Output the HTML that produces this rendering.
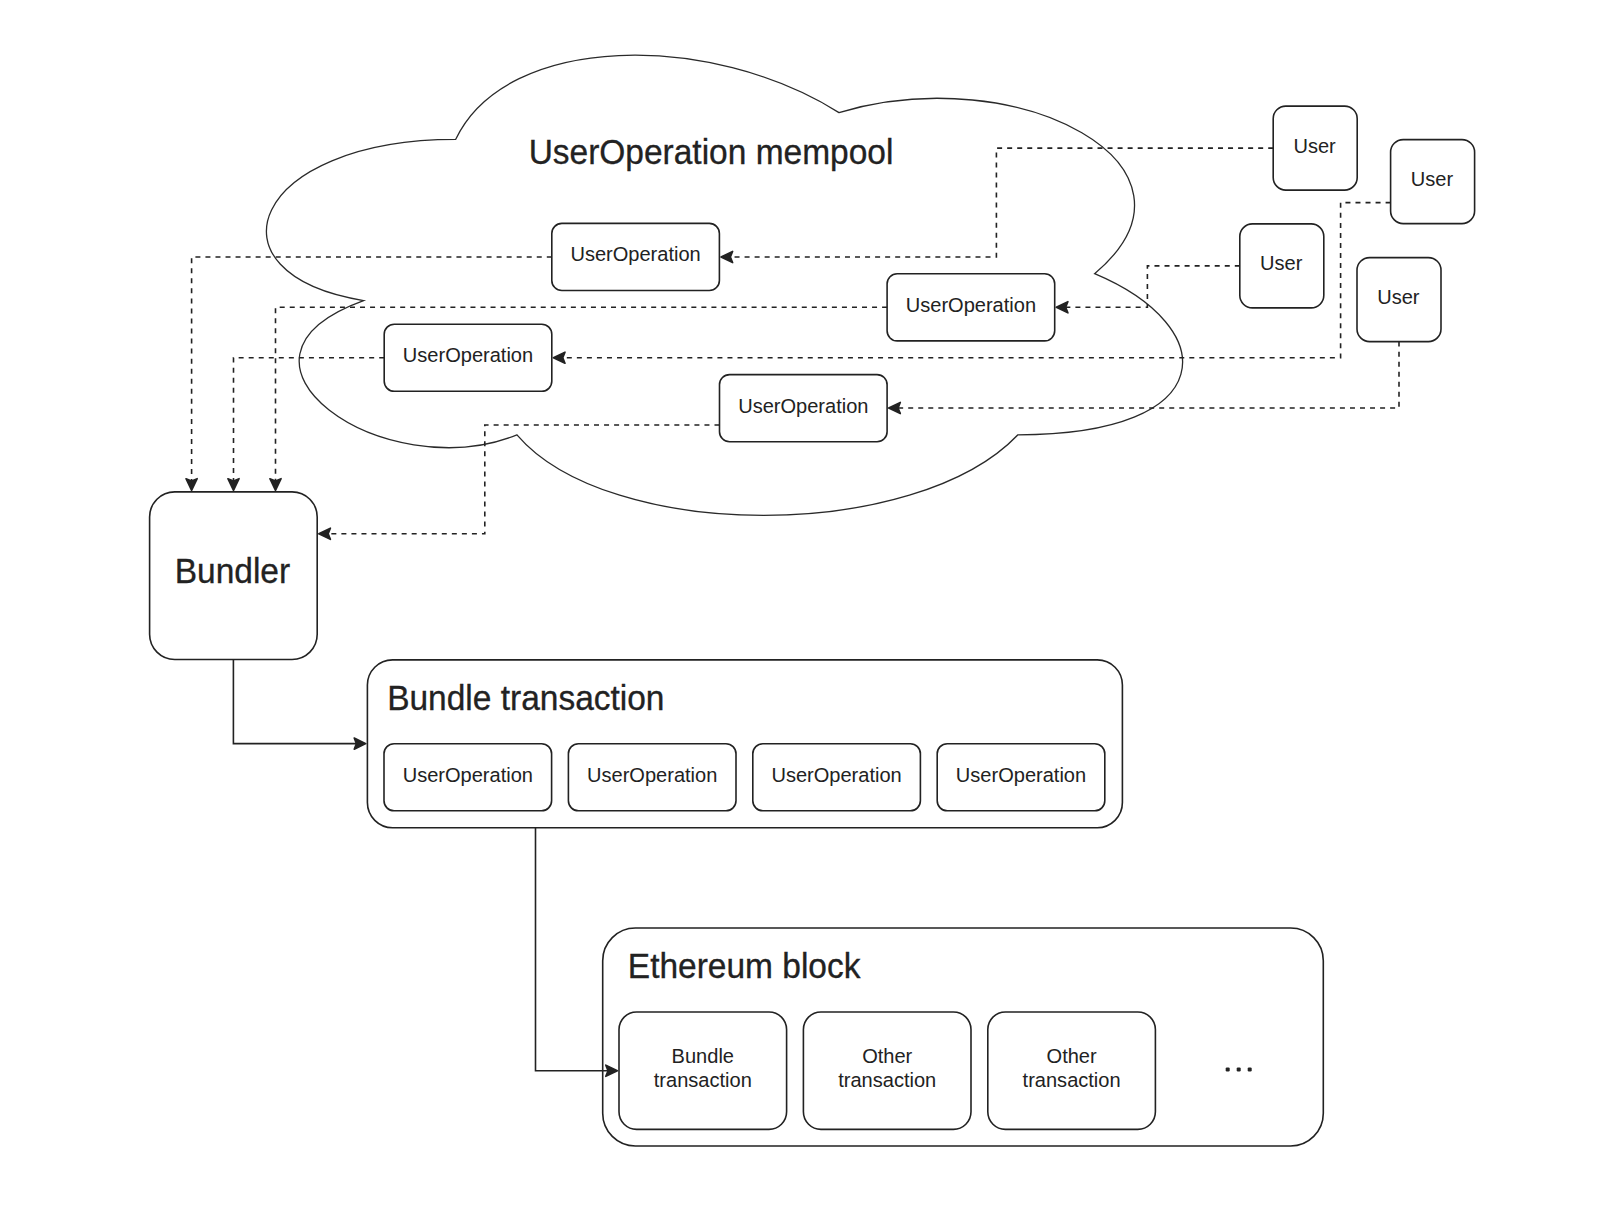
<!DOCTYPE html>
<html><head><meta charset="utf-8"><style>
html,body{margin:0;padding:0;background:#fff;}
svg{display:block;}
text{font-family:"Liberation Sans",sans-serif;fill:#222;}
</style></head><body>
<svg width="1614" height="1216" viewBox="0 0 1614 1216">
<rect width="1614" height="1216" fill="#fff"/>
<path d="M455.60,139.45 C251.12,139.45 200.00,273.70 363.58,300.55 C200.00,359.62 384.03,488.50 516.94,434.80 C608.96,542.20 915.68,542.20 1017.92,434.80 C1222.40,434.80 1222.40,327.40 1094.60,273.70 C1222.40,166.30 1017.92,58.90 839.00,112.60 C711.20,32.05 506.72,32.05 455.60,139.45 Z" fill="#fff" stroke="#2a2a2a" stroke-width="1.3"/>
<rect x="551.80" y="223.40" width="167.60" height="67.10" rx="10.06" ry="10.06" fill="#fff" stroke="#222" stroke-width="1.6"/>
<text transform="translate(635.60,261.35) scale(1,1.04)" font-size="20.05" text-anchor="middle">UserOperation</text>
<rect x="887.10" y="273.80" width="167.60" height="67.10" rx="10.06" ry="10.06" fill="#fff" stroke="#222" stroke-width="1.6"/>
<text transform="translate(970.90,311.75) scale(1,1.04)" font-size="20.05" text-anchor="middle">UserOperation</text>
<rect x="384.20" y="324.20" width="167.60" height="67.10" rx="10.06" ry="10.06" fill="#fff" stroke="#222" stroke-width="1.6"/>
<text transform="translate(468.00,362.15) scale(1,1.04)" font-size="20.05" text-anchor="middle">UserOperation</text>
<rect x="719.50" y="374.60" width="167.60" height="67.10" rx="10.06" ry="10.06" fill="#fff" stroke="#222" stroke-width="1.6"/>
<text transform="translate(803.30,412.55) scale(1,1.04)" font-size="20.05" text-anchor="middle">UserOperation</text>
<rect x="1273.20" y="106.10" width="84.00" height="84.00" rx="12.60" ry="12.60" fill="#fff" stroke="#222" stroke-width="1.6"/>
<text transform="translate(1314.60,152.50) scale(1,1.04)" font-size="20.05" text-anchor="middle">User</text>
<rect x="1390.60" y="139.60" width="84.00" height="84.00" rx="12.60" ry="12.60" fill="#fff" stroke="#222" stroke-width="1.6"/>
<text transform="translate(1432.00,186.00) scale(1,1.04)" font-size="20.05" text-anchor="middle">User</text>
<rect x="1239.80" y="223.90" width="84.00" height="84.00" rx="12.60" ry="12.60" fill="#fff" stroke="#222" stroke-width="1.6"/>
<text transform="translate(1281.20,270.30) scale(1,1.04)" font-size="20.05" text-anchor="middle">User</text>
<rect x="1357.00" y="257.60" width="84.00" height="84.00" rx="12.60" ry="12.60" fill="#fff" stroke="#222" stroke-width="1.6"/>
<text transform="translate(1398.40,304.00) scale(1,1.04)" font-size="20.05" text-anchor="middle">User</text>
<rect x="149.60" y="491.90" width="167.60" height="167.60" rx="25.14" ry="25.14" fill="#fff" stroke="#222" stroke-width="1.6"/>
<text transform="translate(232.40,583.30) scale(1,1.04)" font-size="33.5" text-anchor="middle" stroke="#222" stroke-width="0.3">Bundler</text>
<rect x="367.40" y="659.90" width="755.00" height="167.80" rx="25.17" ry="25.17" fill="#fff" stroke="#222" stroke-width="1.6"/>
<text transform="translate(387.15,709.50) scale(1,1.04)" font-size="33.5" text-anchor="start" stroke="#222" stroke-width="0.3">Bundle transaction</text>
<rect x="384.00" y="743.70" width="167.60" height="67.10" rx="10.06" ry="10.06" fill="#fff" stroke="#222" stroke-width="1.6"/>
<text transform="translate(467.80,781.65) scale(1,1.04)" font-size="20.05" text-anchor="middle">UserOperation</text>
<rect x="568.40" y="743.70" width="167.60" height="67.10" rx="10.06" ry="10.06" fill="#fff" stroke="#222" stroke-width="1.6"/>
<text transform="translate(652.20,781.65) scale(1,1.04)" font-size="20.05" text-anchor="middle">UserOperation</text>
<rect x="752.80" y="743.70" width="167.60" height="67.10" rx="10.06" ry="10.06" fill="#fff" stroke="#222" stroke-width="1.6"/>
<text transform="translate(836.60,781.65) scale(1,1.04)" font-size="20.05" text-anchor="middle">UserOperation</text>
<rect x="937.20" y="743.70" width="167.60" height="67.10" rx="10.06" ry="10.06" fill="#fff" stroke="#222" stroke-width="1.6"/>
<text transform="translate(1021.00,781.65) scale(1,1.04)" font-size="20.05" text-anchor="middle">UserOperation</text>
<rect x="602.70" y="928.00" width="720.60" height="218.00" rx="32.70" ry="32.70" fill="#fff" stroke="#222" stroke-width="1.6"/>
<text transform="translate(627.85,977.80) scale(1,1.04)" font-size="33.5" text-anchor="start" stroke="#222" stroke-width="0.3">Ethereum block</text>
<rect x="619.00" y="1012.00" width="167.60" height="117.35" rx="17.60" ry="17.60" fill="#fff" stroke="#222" stroke-width="1.6"/>
<text transform="translate(702.80,1063.20) scale(1,1.04)" font-size="20.05" text-anchor="middle">Bundle</text>
<text transform="translate(702.80,1086.60) scale(1,1.04)" font-size="20.05" text-anchor="middle">transaction</text>
<rect x="803.40" y="1012.00" width="167.60" height="117.35" rx="17.60" ry="17.60" fill="#fff" stroke="#222" stroke-width="1.6"/>
<text transform="translate(887.20,1063.20) scale(1,1.04)" font-size="20.05" text-anchor="middle">Other</text>
<text transform="translate(887.20,1086.60) scale(1,1.04)" font-size="20.05" text-anchor="middle">transaction</text>
<rect x="987.80" y="1012.00" width="167.60" height="117.35" rx="17.60" ry="17.60" fill="#fff" stroke="#222" stroke-width="1.6"/>
<text transform="translate(1071.60,1063.20) scale(1,1.04)" font-size="20.05" text-anchor="middle">Other</text>
<text transform="translate(1071.60,1086.60) scale(1,1.04)" font-size="20.05" text-anchor="middle">transaction</text>
<rect x="1225.70" y="1067.40" width="4" height="4" rx="1.2" fill="#222"/>
<rect x="1236.70" y="1067.40" width="4" height="4" rx="1.2" fill="#222"/>
<rect x="1247.70" y="1067.40" width="4" height="4" rx="1.2" fill="#222"/>
<text transform="translate(711.00,163.70) scale(1,1.04)" font-size="33.5" text-anchor="middle" stroke="#222" stroke-width="0.3">UserOperation mempool</text>
<path d="M1273.20,148.10 L996.40,148.10 L996.40,257.00 L729.90,257.00" fill="none" stroke="#222" stroke-width="1.6" stroke-dasharray="5 5.04"/>
<path d="M721.00,257.00 L732.60,251.40 L730.40,257.00 L732.60,262.60 Z" fill="#222" stroke="#222" stroke-width="1.6" stroke-linejoin="round"/>
<path d="M1390.60,202.60 L1340.60,202.60 L1340.60,357.70 L562.30,357.70" fill="none" stroke="#222" stroke-width="1.6" stroke-dasharray="5 5.04"/>
<path d="M553.40,357.70 L565.00,352.10 L562.80,357.70 L565.00,363.30 Z" fill="#222" stroke="#222" stroke-width="1.6" stroke-linejoin="round"/>
<path d="M1239.80,265.90 L1147.40,265.90 L1147.40,307.30 L1065.20,307.30" fill="none" stroke="#222" stroke-width="1.6" stroke-dasharray="5 5.04"/>
<path d="M1056.30,307.30 L1067.90,301.70 L1065.70,307.30 L1067.90,312.90 Z" fill="#222" stroke="#222" stroke-width="1.6" stroke-linejoin="round"/>
<path d="M1399.00,341.60 L1399.00,408.00 L897.60,408.00" fill="none" stroke="#222" stroke-width="1.6" stroke-dasharray="5 5.04"/>
<path d="M888.70,408.00 L900.30,402.40 L898.10,408.00 L900.30,413.60 Z" fill="#222" stroke="#222" stroke-width="1.6" stroke-linejoin="round"/>
<path d="M551.80,257.00 L191.60,257.00 L191.60,481.40" fill="none" stroke="#222" stroke-width="1.6" stroke-dasharray="5 5.04"/>
<path d="M191.60,490.30 L186.00,478.70 L191.60,480.90 L197.20,478.70 Z" fill="#222" stroke="#222" stroke-width="1.6" stroke-linejoin="round"/>
<path d="M887.10,307.30 L275.50,307.30 L275.50,481.40" fill="none" stroke="#222" stroke-width="1.6" stroke-dasharray="5 5.04"/>
<path d="M275.50,490.30 L269.90,478.70 L275.50,480.90 L281.10,478.70 Z" fill="#222" stroke="#222" stroke-width="1.6" stroke-linejoin="round"/>
<path d="M384.20,357.70 L233.50,357.70 L233.50,481.40" fill="none" stroke="#222" stroke-width="1.6" stroke-dasharray="5 5.04"/>
<path d="M233.50,490.30 L227.90,478.70 L233.50,480.90 L239.10,478.70 Z" fill="#222" stroke="#222" stroke-width="1.6" stroke-linejoin="round"/>
<path d="M719.50,425.00 L484.80,425.00 L484.80,533.80 L327.70,533.80" fill="none" stroke="#222" stroke-width="1.6" stroke-dasharray="5 5.04"/>
<path d="M318.80,533.80 L330.40,528.20 L328.20,533.80 L330.40,539.40 Z" fill="#222" stroke="#222" stroke-width="1.6" stroke-linejoin="round"/>
<path d="M233.40,659.50 L233.40,743.60 L356.90,743.60" fill="none" stroke="#222" stroke-width="1.6"/>
<path d="M365.80,743.60 L354.20,749.20 L356.40,743.60 L354.20,738.00 Z" fill="#222" stroke="#222" stroke-width="1.6" stroke-linejoin="round"/>
<path d="M535.50,827.70 L535.50,1070.70 L608.50,1070.70" fill="none" stroke="#222" stroke-width="1.6"/>
<path d="M617.40,1070.70 L605.80,1076.30 L608.00,1070.70 L605.80,1065.10 Z" fill="#222" stroke="#222" stroke-width="1.6" stroke-linejoin="round"/>
</svg></body></html>
